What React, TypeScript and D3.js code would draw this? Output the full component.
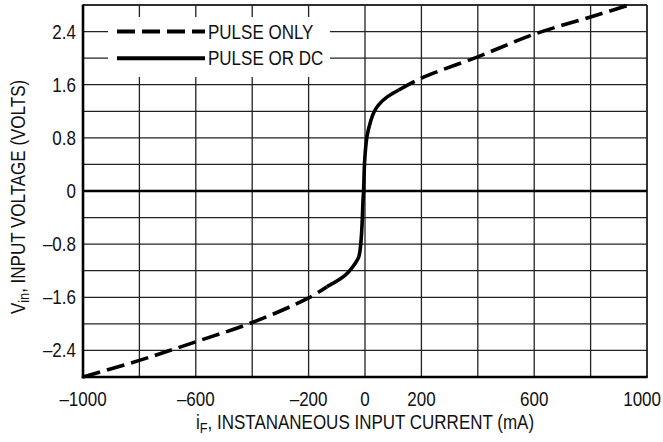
import React from 'react'
import * as d3 from 'd3'

// forward-voltage curve (mA, volts)
const pulseOnlyLow: [number, number][] = [
  [-1000, -2.8],
  [-800, -2.55],
  [-600, -2.27],
  [-400, -1.98],
  [-200, -1.61],
  [-135, -1.44],
]

const pulseOrDc: [number, number][] = [
  [-135, -1.44],
  [-71, -1.27],
  [-35, -1.09],
  [-22, -0.99],
  [-13, -0.69],
  [-7, -0.14],
  [-5, 0],
  [-1, 0.47],
  [7, 0.82],
  [20, 1.05],
  [32, 1.19],
  [49, 1.3],
  [80, 1.42],
  [120, 1.52],
]

const pulseOnlyHigh: [number, number][] = [
  [120, 1.52],
  [200, 1.7],
  [400, 2.02],
  [600, 2.36],
  [800, 2.62],
  [929, 2.79],
]

const xGrid = d3.range(-1000, 1001, 200)
const yGrid = d3.range(-2.8, 2.81, 0.4)
const xTickLabels = [-1000, -600, -200, 0, 200, 600, 1000]
const yTickLabels = [2.4, 1.6, 0.8, 0, -0.8, -1.6, -2.4]

const legendItems = [
  { label: 'PULSE ONLY', dashed: true, level: 2.4 },
  { label: 'PULSE OR DC', dashed: false, level: 2.0 },
]

const width = 663
const height = 442
const left = 83
const right = 647
const top = 5
const bottom = 377

const font = "'Liberation Sans', Arial, sans-serif"
const squeeze = 0.85

const fmt = (v: number) => {
  const s = Math.abs(v) < 1e-9 ? '0' : d3.format('')(Math.abs(v))
  return v < -1e-9 ? '\u2013' + s : s
}

// condensed text: the source uses a narrow grotesque, fake it with a horizontal squeeze
const Narrow: React.FunctionComponent<{
  x: number
  y: number
  anchor?: 'start' | 'middle' | 'end'
  rotate?: number
  children: React.ReactNode
}> = ({ x, y, anchor = 'start', rotate = 0, children }) => (
  <g transform={`translate(${x},${y}) rotate(${rotate}) scale(${squeeze},1)`}>
    <text textAnchor={anchor} fontFamily={font} fontSize={20} fill="#111">
      {children}
    </text>
  </g>
)

const App: React.FunctionComponent = () => {
  const x = d3.scaleLinear().domain([-1000, 1000]).range([left, right])
  const y = d3.scaleLinear().domain([-2.8, 2.8]).range([bottom, top])

  const line = d3
    .line<[number, number]>()
    .x(d => x(d[0]))
    .y(d => y(d[1]))
    .curve(d3.curveCatmullRom.alpha(0.5))

  const grid = '#222'

  return (
    <svg
      width={width}
      height={height}
      style={{ position: 'absolute', left: 0, top: 0, background: '#fff' }}
    >
      {/* grid */}
      {xGrid.map(v => (
        <line key={'vx' + v} x1={x(v)} x2={x(v)} y1={top} y2={bottom} stroke={grid} strokeWidth={1.3} />
      ))}
      {yGrid.map(v => (
        <line key={'hy' + v.toFixed(1)} x1={left} x2={right} y1={y(v)} y2={y(v)} stroke={grid} strokeWidth={1.3} />
      ))}

      {/* legend box knocks out the grid */}
      <rect x={108} y={17} width={222} height={60} fill="#fff" />
      {legendItems.map(item => (
        <g key={item.label}>
          <line
            x1={117}
            x2={205}
            y1={y(item.level)}
            y2={y(item.level)}
            stroke="#000"
            strokeWidth={4}
            strokeDasharray={item.dashed ? '18 7' : undefined}
          />
          <Narrow x={208} y={y(item.level) + 7}>
            {item.label}
          </Narrow>
        </g>
      ))}

      {/* frame */}
      <line x1={left} x2={right} y1={top} y2={top} stroke={grid} strokeWidth={1.5} />
      <line x1={right} x2={right} y1={top} y2={bottom} stroke={grid} strokeWidth={1.5} />
      <line x1={left} x2={right} y1={y(0)} y2={y(0)} stroke="#000" strokeWidth={2.6} />
      <line x1={left} x2={left} y1={top - 0.5} y2={bottom + 1.3} stroke="#000" strokeWidth={2.6} />
      <line x1={left - 1.3} x2={right + 0.7} y1={bottom} y2={bottom} stroke="#000" strokeWidth={2.6} />

      {/* curve */}
      <path d={line(pulseOnlyLow) ?? ''} fill="none" stroke="#000" strokeWidth={3.6} strokeDasharray="18 7" />
      <path d={line(pulseOrDc) ?? ''} fill="none" stroke="#000" strokeWidth={3.6} strokeLinejoin="round" />
      <path d={line(pulseOnlyHigh) ?? ''} fill="none" stroke="#000" strokeWidth={3.6} strokeDasharray="18 7" />

      {/* y tick labels */}
      {yTickLabels.map(v => (
        <Narrow key={'yl' + v} x={76} y={y(v) + 7} anchor="end">
          {fmt(v)}
        </Narrow>
      ))}

      {/* x tick labels; the last one is pulled in so it stays on the page */}
      {xTickLabels.map((v, i) =>
        i === xTickLabels.length - 1 ? (
          <Narrow key={'xl' + v} x={661} y={406} anchor="end">
            {fmt(v)}
          </Narrow>
        ) : (
          <Narrow key={'xl' + v} x={x(v)} y={406} anchor="middle">
            {fmt(v)}
          </Narrow>
        )
      )}

      {/* axis titles */}
      <Narrow x={x(0)} y={429} anchor="middle">
        i<tspan fontSize={15} dy={4}>F</tspan>
        <tspan dy={-4}>, INSTANANEOUS INPUT CURRENT (mA)</tspan>
      </Narrow>
      <Narrow x={25} y={y(0) + 6} anchor="middle" rotate={-90}>
        V<tspan fontSize={15} dy={4}>in</tspan>
        <tspan dy={-4}>, INPUT VOLTAGE (VOLTS)</tspan>
      </Narrow>
    </svg>
  )
}

export default App
